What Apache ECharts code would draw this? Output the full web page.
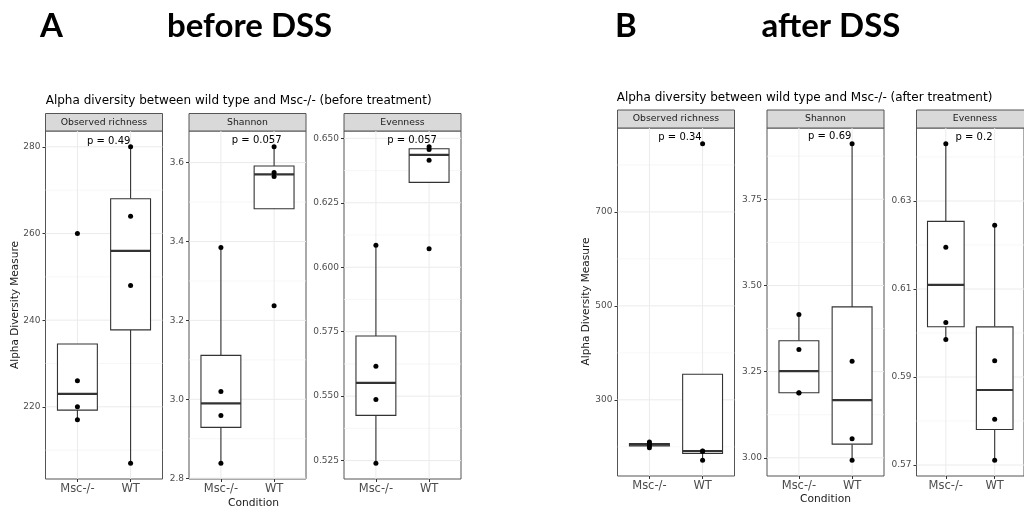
<!DOCTYPE html>
<html>
<head>
<meta charset="utf-8">
<script src="https://cdn.jsdelivr.net/npm/echarts@6/dist/echarts.min.js"></script>
<style>
html, body { margin: 0; padding: 0; background: #fff; }
#chart { width: 1024px; height: 509px; }
</style>
</head>
<body>
<div id="chart"></div>
<script>
var groups = ['Msc-/-', 'WT'];
var metrics = ['Observed richness', 'Shannon', 'Evenness'];

// before DSS, one value per mouse
var beforeRichMsc = [217, 220, 226, 260];
var beforeRichWT = [207, 248, 264, 280];
var beforeShanMsc = [2.838, 2.959, 3.02, 3.385];
var beforeShanWT = [3.237, 3.565, 3.575, 3.64];
var beforeEvenMsc = [0.524, 0.5487, 0.5616, 0.6085];
var beforeEvenWT = [0.6072, 0.6415, 0.6457, 0.6467];

// after DSS
var afterRichMsc = [198, 203, 206, 210];
var afterRichWT = [171.5, 190.4, 190.8, 845];
var afterShanMsc = [3.188, 3.189, 3.314, 3.416];
var afterShanWT = [2.993, 3.055, 3.28, 3.911];
var afterEvenMsc = [0.5985, 0.6024, 0.6195, 0.643];
var afterEvenWT = [0.5711, 0.5804, 0.5937, 0.6245];

var pBefore = ['p = 0.49', 'p = 0.057', 'p = 0.057'];
var pAfter = ['p = 0.34', 'p = 0.69', 'p = 0.2'];

// tick labels
var ticksBefore = [[220, 240, 260, 280], [2.8, 3.0, 3.2, 3.4, 3.6], [0.525, 0.55, 0.575, 0.6, 0.625, 0.65]];
var minorBefore = [[210, 230, 250, 270], [2.9, 3.1, 3.3, 3.5], [0.5375, 0.5625, 0.5875, 0.6125, 0.6375]];
var decBefore = [0, 1, 3];
var ticksAfter = [[300, 500, 700], [3.0, 3.25, 3.5, 3.75], [0.57, 0.59, 0.61, 0.63]];
var minorAfter = [[200, 400, 600, 800], [3.125, 3.375, 3.625, 3.875], [0.58, 0.6, 0.62, 0.64]];
var decAfter = [0, 2, 2];

var FONT = 'DejaVu Sans';

// ggplot style quantile (type 7)
function quant(s, p) {
  var h = (s.length - 1) * p, lo = Math.floor(h);
  if (lo + 1 >= s.length) return s[lo];
  return s[lo] + (h - lo) * (s[lo + 1] - s[lo]);
}
function boxStats(vals) {
  var s = vals.slice().sort(function (a, b) { return a - b; });
  var q1 = quant(s, 0.25), md = quant(s, 0.5), q3 = quant(s, 0.75);
  var iqr = q3 - q1;
  var inside = s.filter(function (v) { return v >= q1 - 1.5 * iqr && v <= q3 + 1.5 * iqr; });
  return [inside[0], q1, md, q3, inside[inside.length - 1]];
}

var figs = [
  {
    top: 131, stripTop: 113.5, lefts: [45.5, 189, 344],
    data: [[beforeRichMsc, beforeRichWT], [beforeShanMsc, beforeShanWT], [beforeEvenMsc, beforeEvenWT]],
    ticks: ticksBefore, minor: minorBefore, dec: decBefore, p: pBefore,
    pPos: [[108.7, 141], [256.7, 140.3], [412, 140]]
  },
  {
    top: 128, stripTop: 110, lefts: [617.5, 767, 916.5],
    data: [[afterRichMsc, afterRichWT], [afterShanMsc, afterShanWT], [afterEvenMsc, afterEvenWT]],
    ticks: ticksAfter, minor: minorAfter, dec: decAfter, p: pAfter,
    pPos: [[680, 137.3], [829.7, 136.7], [974, 137]]
  }
];

var W = 117, H = 348;
var grids = [], xAxes = [], yAxes = [], series = [], graphics = [];

figs.forEach(function (f) {
  f.data.forEach(function (pair, k) {
    var gi = grids.length;
    var all = pair[0].concat(pair[1]);
    var lo = Math.min.apply(null, all), hi = Math.max.apply(null, all);
    var ymin = lo - (hi - lo) * 0.05, ymax = hi + (hi - lo) * 0.05;
    var dec = f.dec[k];

    grids.push({
      left: f.lefts[k], top: f.top, width: W, height: H,
      show: true, backgroundColor: '#fff', borderColor: '#555', borderWidth: 1
    });
    xAxes.push({
      gridIndex: gi, type: 'value', min: 0.4, max: 2.6,
      axisLine: { show: false },
      axisTick: { show: true, customValues: [1, 2], length: 3, lineStyle: { color: '#333' } },
      axisLabel: {
        customValues: [1, 2], margin: 4, color: '#4d4d4d', fontSize: 11.5, fontFamily: FONT,
        formatter: function (v) { return groups[Math.round(v) - 1]; }
      },
      splitLine: { show: false }
    });
    yAxes.push({
      gridIndex: gi, type: 'value', min: ymin, max: ymax,
      axisLine: { show: false },
      axisTick: { show: true, customValues: f.ticks[k], length: 3, lineStyle: { color: '#333' } },
      axisLabel: {
        customValues: f.ticks[k], margin: 5, color: '#4d4d4d', fontSize: 9, fontFamily: FONT,
        formatter: function (v) { return v.toFixed(dec); }
      },
      splitLine: { show: false }
    });

    // panel grid lines
    var lines = [];
    f.minor[k].forEach(function (v) { lines.push([0, v, 0]); });
    f.ticks[k].forEach(function (v) { lines.push([0, v, 1]); });
    lines.push([1, 1, 1], [1, 2, 1]);
    series.push({
      type: 'custom', xAxisIndex: gi, yAxisIndex: gi, z: 1, silent: true, clip: true,
      data: lines,
      renderItem: function (params, api) {
        var kind = api.value(0), v = api.value(1), major = api.value(2);
        var a, b;
        if (kind === 0) { a = api.coord([0.4, v]); b = api.coord([2.6, v]); }
        else { a = api.coord([v, ymin]); b = api.coord([v, ymax]); }
        return {
          type: 'line',
          shape: { x1: a[0], y1: a[1], x2: b[0], y2: b[1] },
          style: { stroke: major ? '#ebebeb' : '#f4f4f4', lineWidth: major ? 1 : 0.7 }
        };
      }
    });

    // boxes
    var boxes = pair.map(function (vals, g) { return [g + 1].concat(boxStats(vals)); });
    series.push({
      type: 'custom', xAxisIndex: gi, yAxisIndex: gi, z: 2, silent: true,
      data: boxes,
      renderItem: function (params, api) {
        var x = api.value(0), wlo = api.value(1), q1 = api.value(2), md = api.value(3),
            q3 = api.value(4), whi = api.value(5), hw = 0.375;
        var tl = api.coord([x - hw, q3]), br = api.coord([x + hw, q1]);
        var pLo = api.coord([x, wlo]), pQ1 = api.coord([x, q1]);
        var pQ3 = api.coord([x, q3]), pHi = api.coord([x, whi]);
        var m1 = api.coord([x - hw, md]), m2 = api.coord([x + hw, md]);
        var st = { stroke: '#333', lineWidth: 1.1 };
        return {
          type: 'group',
          children: [
            { type: 'line', shape: { x1: pLo[0], y1: pLo[1], x2: pQ1[0], y2: pQ1[1] }, style: st },
            { type: 'line', shape: { x1: pQ3[0], y1: pQ3[1], x2: pHi[0], y2: pHi[1] }, style: st },
            { type: 'rect', shape: { x: tl[0], y: tl[1], width: br[0] - tl[0], height: Math.max(br[1] - tl[1], 0.5) },
              style: { fill: '#fff', stroke: '#333', lineWidth: 1.1 } },
            { type: 'line', shape: { x1: m1[0], y1: m1[1], x2: m2[0], y2: m2[1] },
              style: { stroke: '#333', lineWidth: 2.2 } }
          ]
        };
      }
    });

    // points
    var pts = [];
    pair.forEach(function (vals, g) { vals.forEach(function (v) { pts.push([g + 1, v]); }); });
    series.push({
      type: 'scatter', xAxisIndex: gi, yAxisIndex: gi, z: 3, silent: true,
      symbolSize: 5, itemStyle: { color: '#000', opacity: 1 }, data: pts
    });

    // strip
    graphics.push({
      type: 'rect', shape: { x: f.lefts[k], y: f.stripTop, width: W, height: f.top - f.stripTop },
      style: { fill: '#d9d9d9', stroke: '#555', lineWidth: 1 }
    });
    graphics.push({
      type: 'text', x: f.lefts[k] + W / 2, y: (f.stripTop + f.top) / 2,
      style: { text: metrics[k], fill: '#1a1a1a', fontSize: 9.3, fontFamily: FONT, align: 'center', verticalAlign: 'middle' }
    });
    // p value
    graphics.push({
      type: 'text', x: f.pPos[k][0], y: f.pPos[k][1], z: 10,
      style: { text: f.p[k], fill: '#000', fontSize: 10, fontFamily: FONT, align: 'center', verticalAlign: 'middle' }
    });
  });
});

function txt(s, x, y, size, opts) {
  var e = {
    type: 'text', x: x, y: y,
    style: { text: s, fill: '#000', fontSize: size, fontFamily: FONT, align: 'left', verticalAlign: 'middle' }
  };
  for (var key in opts) {
    if (key === 'rotation') e.rotation = opts[key]; else e.style[key] = opts[key];
  }
  return e;
}

graphics.push(
  txt('A', 40, 26, 33, { fontFamily: 'Lato', fontWeight: 'bold' }),
  txt('before DSS', 167, 26, 33, { fontFamily: 'Lato', fontWeight: 'bold' }),
  txt('B', 615, 26, 33, { fontFamily: 'Lato', fontWeight: 'bold' }),
  txt('after DSS', 761.5, 26, 33, { fontFamily: 'Lato', fontWeight: 'bold' }),
  txt('Alpha diversity between wild type and Msc-/- (before treatment)', 45.7, 101.3, 12, {}),
  txt('Alpha diversity between wild type and Msc-/- (after treatment)', 616.7, 98.3, 12, {}),
  txt('Alpha Diversity Measure', 15, 305, 10.5, { align: 'center', fill: '#1a1a1a', rotation: Math.PI / 2 }),
  txt('Alpha Diversity Measure', 586.7, 301.5, 10.5, { align: 'center', fill: '#1a1a1a', rotation: Math.PI / 2 }),
  txt('Condition', 253.5, 503, 10.7, { align: 'center', fill: '#1a1a1a' }),
  txt('Condition', 825.5, 499, 10.7, { align: 'center', fill: '#1a1a1a' })
);

var chart = echarts.init(document.getElementById('chart'), null, { renderer: 'canvas' });
chart.setOption({
  animation: false,
  backgroundColor: '#fff',
  grid: grids,
  xAxis: xAxes,
  yAxis: yAxes,
  series: series,
  graphic: { elements: graphics }
});
window.addEventListener('resize', function () { chart.resize(); });
</script>
</body>
</html>
